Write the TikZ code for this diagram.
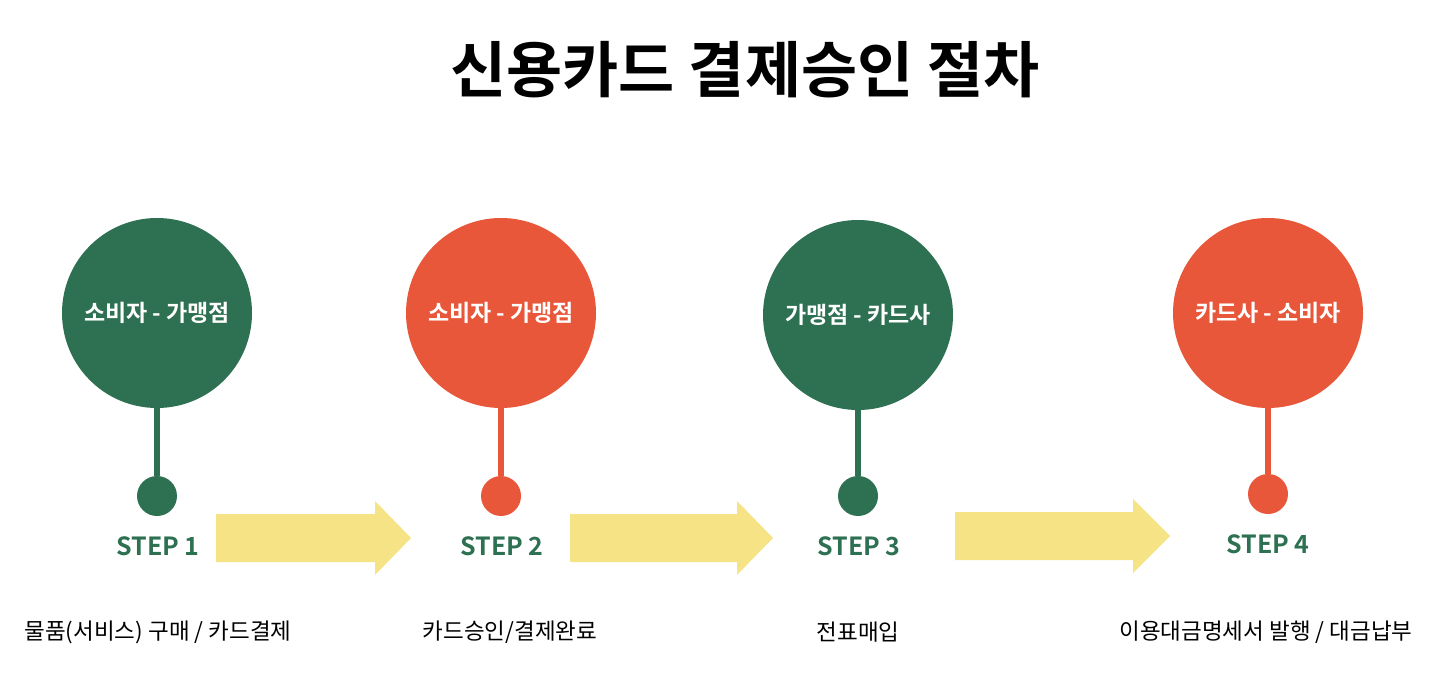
\documentclass[tikz,border=0pt]{standalone}
\usepackage{fontspec}
\newfontfamily\kr{Noto Sans CJK KR}
\newfontfamily\krb{Noto Sans CJK KR Bold}
\definecolor{cgreen}{HTML}{2E7152}
\definecolor{cred}{HTML}{E9573B}
\definecolor{cyellow}{HTML}{F6E385}
\tikzset{
  big/.style={circle,minimum size=190pt,inner sep=0pt,text=white,font=\krb\fontsize{23}{26}\selectfont},
  dot/.style={circle,minimum size=40pt,inner sep=0pt},
  stem/.style={line width=6pt},
  steplbl/.style={font=\krb\fontsize{25}{28}\selectfont,text=cgreen},
  desc/.style={font=\kr\fontsize{22.5}{26}\selectfont,text=black},
  flow/.style={fill=cyellow},
}
\begin{document}
\begin{tikzpicture}[x=1pt,y=-1pt]
\useasboundingbox (0,0) rectangle (1441,687);
\node[font=\krb\fontsize{61}{68}\selectfont] (title) at (745,70) {신용카드 결제승인 절차};
% step 1
\node[big,fill=cgreen] (c1) at (157,313) {소비자 - 가맹점};
\node[dot,fill=cgreen] (d1) at (157,496) {};
\draw[stem,cgreen] (c1.south) -- (d1.north);
\node[steplbl] (s1) at (158,546) {STEP 1};
\node[desc] (t1) at (158,632) {물품(서비스) 구매 / 카드결제};
% step 2
\node[big,fill=cred] (c2) at (501,313) {소비자 - 가맹점};
\node[dot,fill=cred] (d2) at (501,496) {};
\draw[stem,cred] (c2.south) -- (d2.north);
\node[steplbl] (s2) at (502,546) {STEP 2};
\node[desc] (t2) at (510,632) {카드승인/결제완료};
% step 3
\node[big,fill=cgreen] (c3) at (858,315) {가맹점 - 카드사};
\node[dot,fill=cgreen] (d3) at (858,496) {};
\draw[stem,cgreen] (c3.south) -- (d3.north);
\node[steplbl] (s3) at (859,546) {STEP 3};
\node[desc] (t3) at (858,632) {전표매입};
% step 4
\node[big,fill=cred] (c4) at (1268,313) {카드사 - 소비자};
\node[dot,fill=cred] (d4) at (1268,494) {};
\draw[stem,cred] (c4.south) -- (d4.north);
\node[steplbl] (s4) at (1268,544) {STEP 4};
\node[desc] (t4) at (1266,632) {이용대금명세서 발행 / 대금납부};
% arrows
\fill[flow] (216,514) -- (375,514) -- (375,501) -- (411,538) -- (375,575) -- (375,562) -- (216,562) -- cycle;
\fill[flow] (570,514) -- (737,514) -- (737,501) -- (773,538) -- (737,575) -- (737,562) -- (570,562) -- cycle;
\fill[flow] (955,512) -- (1133,512) -- (1133,499) -- (1170,536) -- (1133,573) -- (1133,560) -- (955,560) -- cycle;
\end{tikzpicture}
\end{document}
